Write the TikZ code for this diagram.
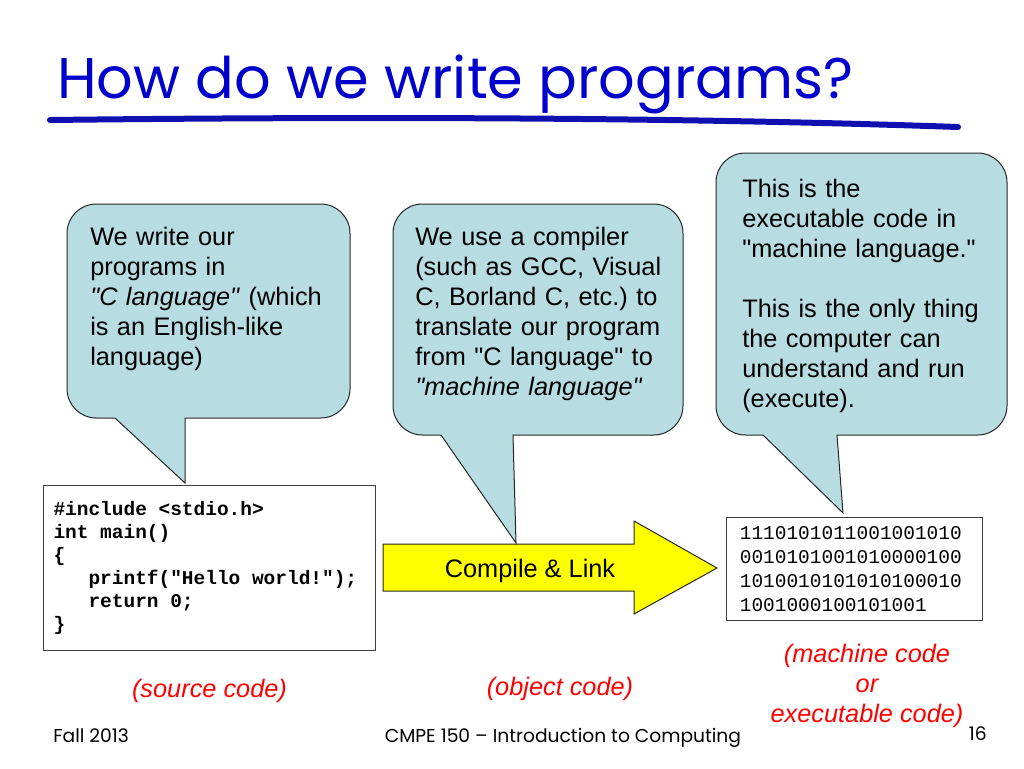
\documentclass[tikz,border=0pt]{standalone}
\usepackage{fontspec}
\setmainfont{Liberation Sans}
\setmonofont{Liberation Mono}
\newfontfamily\comicfont{Poppins}
\usetikzlibrary{positioning}

\definecolor{titleblue}{RGB}{0,0,204}
\definecolor{lineblue}{RGB}{16,16,176}
\definecolor{bubbleblue}{RGB}{183,221,226}
\definecolor{arrowyellow}{RGB}{255,255,0}

\newcommand{\dq}{\textquotedbl}
\newcommand{\codesp}{\hspace*{0.6em}}
\frenchspacing

\begin{document}
\begin{tikzpicture}[
        x=0.75pt, y=-0.75pt,
        bubble/.style = {draw=black!85, line width=0.75pt, fill=bubbleblue},
        bubbletext/.style = {anchor=north west, inner sep=0pt, text width=230pt, align=left, font=\fontsize{19}{22.5}\selectfont},
        codebox/.style = {draw=black!75, line width=0.75pt, fill=white, anchor=north west, inner ysep=0pt, align=left},
        bigarrow/.style = {draw=black!85, line width=0.75pt, fill=arrowyellow},
        remark/.style = {text=red, font=\fontsize{19}{22.5}\selectfont\itshape, align=center, inner sep=0pt},
        footer/.style = {font=\comicfont\fontsize{14}{16}\selectfont, inner sep=0pt}
        ]
        \useasboundingbox (0,0) rectangle (1024,768);

        % Titel
        \node[anchor=base west, inner sep=0pt, text=titleblue, font=\comicfont\fontsize{43}{50}\selectfont] (title) at (57,98) {How do we write programs?};
        \draw[lineblue, line width=4.5pt, line cap=round] (50,120) .. controls (400,116) and (700,118) .. (958,127);

        % Pfeil
        \draw[bigarrow] (383,544) -- (634,544) -- (634,521) -- (717,568) -- (634,614) -- (634,591) -- (383,591) -- cycle;
        \node[anchor=base, inner sep=0pt, font=\fontsize{19}{22.5}\selectfont] (compile) at (530,577) {Compile \& Link};

        % Kaesten
        \node[codebox, minimum width=249pt, minimum height=123.75pt, inner xsep=7.5pt, text width=234pt,
              font=\ttfamily\bfseries\fontsize{14.6}{17.25}\selectfont] (src) at (43,485)
             {\#include\codesp<stdio.h>\\
              int\codesp main()\\
              \{\\
              \hspace*{1.8em}printf("Hello\codesp world!");\\
              \hspace*{1.8em}return\codesp 0;\\
              \}};
        \node[codebox, minimum width=192pt, minimum height=77.25pt, inner xsep=9.75pt, text width=172pt,
              font=\ttfamily\fontsize{14.6}{17.8}\selectfont] (bin) at (726,517)
             {1110101011001001010\\
              0010101001010000100\\
              1010010101010100010\\
              1001000100101001};

        % Sprechblasen
        \draw[bubble] (250,418) -- (185,418) -- (185,483) -- (115,418) -- (100,418)
             [rounded corners=22pt] -- (67,418) -- (67,204) -- (350,204) -- (350,418) -- cycle;
        \draw[bubble] (600,435) -- (513,435) -- (516,543) -- (441,435) -- (425,435)
             [rounded corners=22pt] -- (393,435) -- (393,204) -- (683,204) -- (683,435) -- cycle;
        \draw[bubble] (900,435) -- (837,435) -- (843,513) -- (763,435) -- (748,435)
             [rounded corners=22pt] -- (716,435) -- (716,153) -- (1007,153) -- (1007,435) -- cycle;

        \node[bubbletext] (ctext) at (90,227)
             {We write our\\ programs in\\ \textit{\dq C language\dq} (which\\ is an English-like\\ language)};
        \node[bubbletext] (comptext) at (415,227)
             {We use a compiler\\ (such as GCC, Visual\\ C, Borland C, etc.) to\\ translate our program\\ from \dq C language\dq\ to\\ \textit{\dq machine language\dq}};
        \node[bubbletext] (exetext) at (742,179)
             {This is the\\ executable code in\\ \dq machine language.\dq\\[22.5pt] This is the only thing\\ the computer can\\ understand and run\\ (execute).};

        % Hinweise
        \node[remark, below=21pt of src] (srclabel) {(source code)};
        \node[remark, anchor=base] (objlabel) at (560,695) {(object code)};
        \node[remark, anchor=north] (exelabel) at (867,644) {(machine code\\ or\\ executable code)};

        % Fusszeile
        \node[footer, anchor=base west] (term) at (53,742) {Fall 2013};
        \node[footer, anchor=base] (course) at (563,742) {CMPE 150 – Introduction to Computing};
        \node[footer, anchor=base east] (page) at (987,740) {16};

        \end{tikzpicture}
\end{document}
